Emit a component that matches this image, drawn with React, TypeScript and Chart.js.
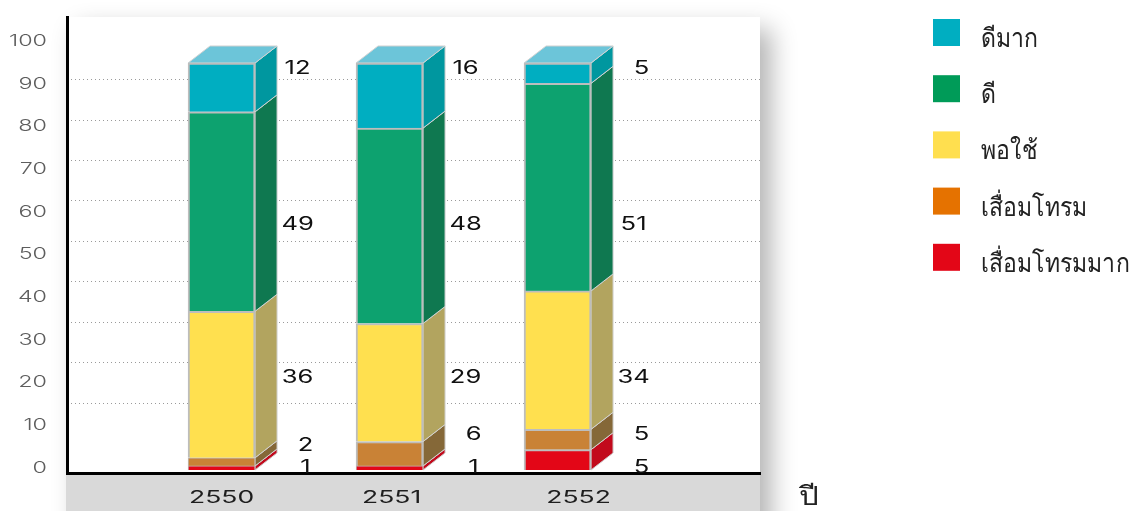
import React, { useEffect, useRef } from "react";
import { Chart, registerables } from "chart.js";

Chart.register(...registerables);

// Survey results per Buddhist-era year, stacked bottom to top.
const years = ["2550", "2551", "2552"];
const seriesNames = ["เสื่อมโทรมมาก", "เสื่อมโทรม", "พอใช้", "ดี", "ดีมาก"];
const veryPoor = [1, 1, 5];
const poor = [2, 6, 5];
const fair = [36, 29, 34];
const good = [49, 48, 51];
const veryGood = [12, 16, 5];
const axisTicks = [0, 10, 20, 30, 40, 50, 60, 70, 80, 90, 100];
const gridTicks = [10, 20, 30, 40, 50, 60, 70, 80, 90];
const xUnit = "ปี";

const seriesValues = [veryPoor, poor, fair, good, veryGood];
const faceColors = ["#E30617", "#C98236", "#FFE04F", "#0DA26F", "#00AEC1"];
const sideColors = ["#C20A1C", "#856838", "#B2A45F", "#0F7850", "#00979F"];
const legendColors = ["#E30617", "#E57200", "#FFDF4F", "#009B58", "#00AEC1"];
const capColor = "#6CC5D9";

// Where the value captions sit, read on the bar scale, one row per series.
const captionLevels = [
  [1, 1, 1],
  [6.6, 9.1, 9.1],
  [23.3, 23.3, 23.3],
  [60.9, 60.9, 60.9],
  [99, 99, 99],
];

const DEPTH_X = 22;
const DEPTH_Y = 17;
const YEAR_NUDGE = [0, 2, 21];
const DIGIT_DROP = 2;
const NUM_FONT = "Inter";
const THAI_FONT = "'Noto Sans', 'Liberation Sans', sans-serif";

function wideText(ctx: CanvasRenderingContext2D, text: string, x: number, y: number, stretch: number, align: CanvasTextAlign) {
  ctx.save();
  ctx.translate(x, y);
  ctx.scale(stretch, 1);
  ctx.textAlign = align;
  ctx.textBaseline = "middle";
  ctx.fillText(text, 0, 0);
  ctx.restore();
}

const panelPlugin = {
  id: "panel",
  beforeDraw(chart: any) {
    const { ctx, chartArea: a, height } = chart;
    ctx.save();
    // White plot panel casting a soft shadow to the lower right.
    ctx.shadowColor = "rgba(0,0,0,0.3)";
    ctx.shadowBlur = 24;
    ctx.shadowOffsetX = 11;
    ctx.shadowOffsetY = 12;
    ctx.fillStyle = "#FFFFFF";
    ctx.fillRect(a.left, a.top, a.right - a.left, height);
    ctx.shadowColor = "transparent";
    // Grey band holding the year labels.
    ctx.fillStyle = "#D9D9D9";
    ctx.fillRect(a.left - 1, a.bottom, a.right - a.left + 1, height - a.bottom);
    ctx.restore();
  },
};

const prismPlugin = {
  id: "prism",
  beforeDatasetsDraw(chart: any) {
    const { ctx } = chart;
    ctx.save();
    seriesValues.forEach((_, s) => {
      chart.getDatasetMeta(s).data.forEach((bar: any) => {
        const right = bar.x + bar.width / 2;
        const left = bar.x - bar.width / 2;
        ctx.fillStyle = sideColors[s];
        ctx.strokeStyle = "#D2D2D2";
        ctx.lineWidth = 1;
        ctx.beginPath();
        ctx.moveTo(right, bar.y);
        ctx.lineTo(right + DEPTH_X, bar.y - DEPTH_Y);
        ctx.lineTo(right + DEPTH_X, bar.base - DEPTH_Y);
        ctx.lineTo(right, bar.base);
        ctx.closePath();
        ctx.fill();
        ctx.stroke();
        if (s === seriesValues.length - 1) {
          ctx.fillStyle = capColor;
          ctx.beginPath();
          ctx.moveTo(left, bar.y);
          ctx.lineTo(left + DEPTH_X, bar.y - DEPTH_Y);
          ctx.lineTo(right + DEPTH_X, bar.y - DEPTH_Y);
          ctx.lineTo(right, bar.y);
          ctx.closePath();
          ctx.fill();
          ctx.stroke();
        }
      });
    });
    ctx.restore();
  },
};

const textPlugin = {
  id: "chartText",
  afterDraw(chart: any) {
    const { ctx, scales, chartArea: a } = chart;
    ctx.save();

    // Value axis numbers.
    ctx.font = `300 16px ${NUM_FONT}`;
    ctx.fillStyle = "#5E5E5E";
    scales.yLabels.ticks.forEach((t: any) => {
      wideText(ctx, String(t.value), 47, scales.yLabels.getPixelForValue(t.value) + DIGIT_DROP, 1.46, "right");
    });

    // Year labels in the grey band.
    ctx.font = `400 17px ${NUM_FONT}`;
    ctx.fillStyle = "#1E1E1E";
    years.forEach((year, i) => {
      wideText(ctx, year, scales.x.getPixelForValue(i) + YEAR_NUDGE[i], a.bottom + 23 + DIGIT_DROP, 1.56, "center");
    });

    // Value captions to the right of each column.
    ctx.font = `400 18px ${NUM_FONT}`;
    ctx.fillStyle = "#111111";
    seriesValues.forEach((values, s) => {
      values.forEach((v, i) => {
        const text = String(v);
        const cx = scales.x.getPixelForValue(i) + (text.length > 1 ? 76 : 84);
        wideText(ctx, text, cx, scales.y.getPixelForValue(captionLevels[s][i]) + DIGIT_DROP, 1.42, "center");
      });
    });

    // Legend, best rating first.
    ctx.font = `400 26px ${THAI_FONT}`;
    for (let s = seriesNames.length - 1, row = 0; s >= 0; s--, row++) {
      const top = 19 + row * 56.2;
      ctx.fillStyle = legendColors[s];
      ctx.fillRect(933, top, 27, 27);
      ctx.fillStyle = "#222222";
      wideText(ctx, seriesNames[s], 981, top + 20.5, 0.885, "left");
    }

    // Unit of the horizontal axis.
    wideText(ctx, xUnit, 799, a.bottom + 25, 1.2, "left");
    ctx.restore();
  },
};

export default function App() {
  const ref = useRef<HTMLCanvasElement>(null);

  useEffect(() => {
    const chart = new Chart(ref.current!, {
      type: "bar",
      data: {
        datasets: seriesNames.map((label, s) => ({
          label,
          data: seriesValues[s].map((y, x) => ({ x, y })),
          backgroundColor: faceColors[s],
          borderColor: "#BDBDBD",
          // Thin slices would vanish behind a full-weight outline.
          borderWidth: (c: any) => (seriesValues[s][c.dataIndex] <= 2 ? 1 : 2),
          barThickness: 67,
        })),
      },
      options: {
        responsive: false,
        animation: false,
        layout: { padding: { left: 67, right: 371, top: 17, bottom: 38 } },
        plugins: { legend: { display: false }, tooltip: { enabled: false } },
        scales: {
          x: {
            type: "linear",
            stacked: true,
            offset: false,
            min: -0.92,
            max: 3.205,
            afterBuildTicks: (s: any) => {
              s.ticks = years.map((_, i) => ({ value: i }));
            },
            ticks: { display: false },
            grid: { display: false, drawTicks: false, offset: false },
            border: { display: true, color: "#000000", width: 3 },
          },
          // Scale the columns are stacked on.
          y: {
            stacked: true,
            min: -0.737,
            max: 111.3,
            display: false,
          },
          // Scale of the printed axis numbers, on a slightly wider pitch.
          yLabels: {
            position: "left",
            min: -1.64,
            max: 105.15,
            afterBuildTicks: (s: any) => {
              s.ticks = axisTicks.map((value) => ({ value }));
            },
            ticks: { display: false },
            grid: { display: false, drawTicks: false },
            border: { display: true, color: "#000000", width: 3 },
          },
          // Scale of the dotted rules on the back wall.
          yGrid: {
            position: "left",
            min: -7.3,
            max: 105.5,
            afterBuildTicks: (s: any) => {
              s.ticks = gridTicks.map((value) => ({ value }));
            },
            ticks: { display: false },
            grid: { display: true, drawTicks: false, color: "#9A9A9A", lineWidth: 1 },
            border: { display: false, dash: [1, 3] },
          },
        },
      } as any,
      plugins: [panelPlugin, prismPlugin, textPlugin],
    });
    return () => chart.destroy();
  }, []);

  return (
    <canvas
      ref={ref}
      width={1131}
      height={511}
      style={{ position: "absolute", left: 0, top: 0, display: "block" }}
    />
  );
}
